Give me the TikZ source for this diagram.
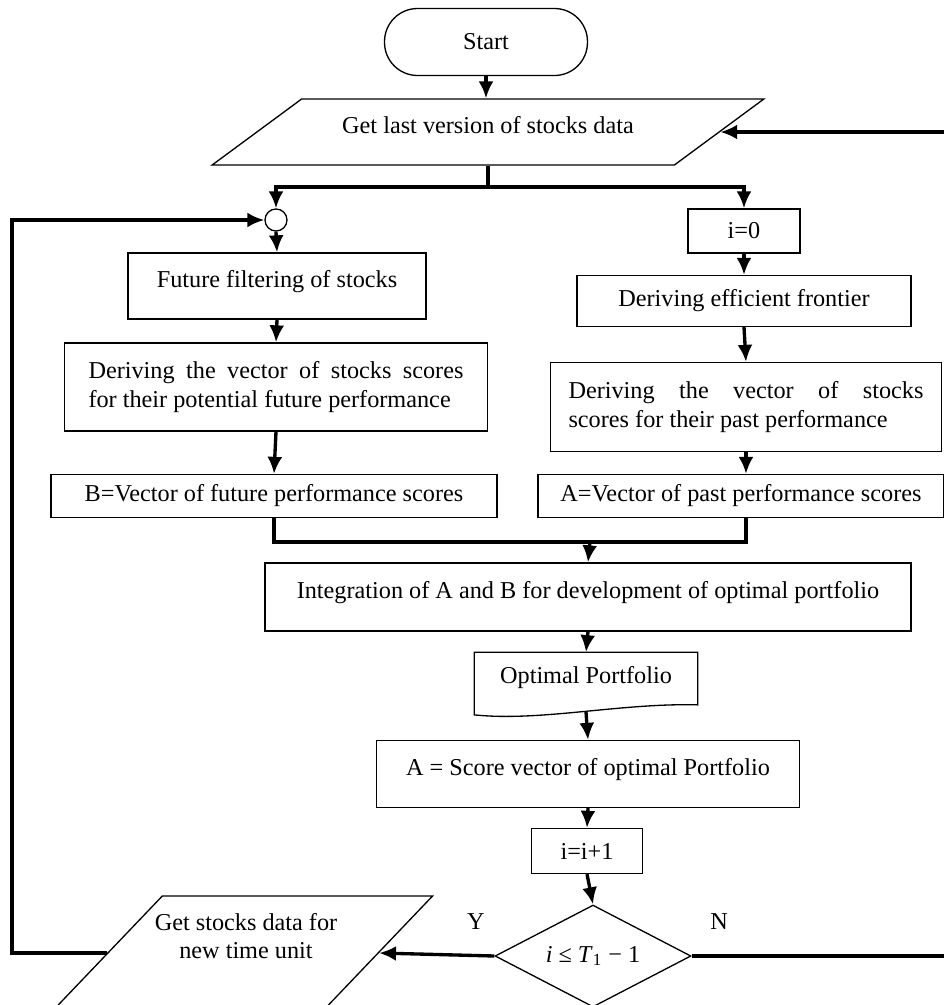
\documentclass[tikz,border=0pt]{standalone}
\usepackage{fontspec}
\setmainfont{Liberation Serif}
\usetikzlibrary{arrows.meta,shapes.geometric,calc}

\begin{document}
\begin{tikzpicture}[x=0.02cm, y=-0.02cm, font=\fontsize{13.8}{16}\selectfont]
\tikzset{block/.style = {shape=rectangle,draw,line width=0.75pt,inner sep=2pt}}
\tikzset{io/.style = {trapezium,draw,line width=0.75pt,trapezium stretches=true}}
\tikzset{raised/.style = {text depth=8.5pt}}
\tikzset{flow/.style = {-{Latex[length=0.34cm,width=0.3cm]}, line width=1.9pt}}
\tikzset{joinline/.style = {line width=1.9pt}}
\useasboundingbox (0,0) rectangle (944,1005);

% top of the chart
\node[block,rounded corners=0.66cm,minimum width=4.06cm,minimum height=1.34cm] (start) at (486,42) {Start};
\node[io,raised,trapezium left angle=31,trapezium right angle=149,minimum width=11.06cm,minimum height=1.32cm] (getdata) at (488,132) {Get last version of stocks data};
\coordinate (split) at (488,187);

% left branch
\node[circle,draw,line width=0.75pt,minimum size=0.44cm,inner sep=0pt] (junction) at (276,220) {};
\node[block,raised,minimum width=5.96cm,minimum height=1.32cm] (filt) at (277,286) {Future filtering of stocks};
\node[block,minimum width=8.46cm,minimum height=1.76cm,text width=7.5cm,align=justify] (derf) at (276,387) {Deriving the vector of stocks scores\linebreak for their potential future performance};
\node[block,minimum width=8.92cm,minimum height=0.86cm] (bvec) at (274,496) {B=Vector of future performance scores};

% right branch
\node[block,minimum width=2.24cm,minimum height=0.88cm] (izero) at (744,231) {i=0};
\node[block,minimum width=6.68cm,minimum height=1.02cm] (frontier) at (744,301) {Deriving efficient frontier};
\node[block,minimum width=7.82cm,minimum height=1.78cm,text width=7.1cm,align=justify] (derp) at (746,407) {Deriving the vector of stocks\linebreak scores for their past performance};
\node[block,minimum width=8.12cm,minimum height=0.86cm] (avec) at (741,496) {A=Vector of past performance scores};
\coordinate (merge) at (590,542);

% bottom part
\node[block,raised,minimum width=12.92cm,minimum height=1.36cm] (integ) at (588,597) {Integration of A and B for development of optimal portfolio};
\node[raised,minimum width=4.46cm,minimum height=1.18cm] (opt) at (586,682) {Optimal Portfolio};
\draw[line width=0.75pt] ($(opt.south west)+(0,3)$) -- (opt.north west) -- (opt.north east) -- ($(opt.south east)+(0,-7)$)
  .. controls ($(opt.south)+(34,-9)$) and ($(opt.south)+(-46,10)$) .. ($(opt.south west)+(0,3)$) -- cycle;
\node[block,raised,minimum width=8.46cm,minimum height=1.34cm] (ascore) at (588,774) {A = Score vector of optimal Portfolio};
\node[block,minimum width=2.22cm,minimum height=0.9cm] (inc) at (587,851) {i=i+1};
\node[diamond,draw,line width=0.75pt,aspect=1.92,minimum width=3.92cm,minimum height=2.04cm,inner sep=0pt] (dec) at (593,956) {\textit{i} ≤ \textit{T}\textsubscript{1} − 1};
\node[io,trapezium left angle=56,trapezium right angle=124,minimum width=7.59cm,minimum height=2.28cm] (getnew) at (243,953) {};
\node[align=center] (getnewtext) at (246,936) {Get stocks data for\\new time unit};
\node (ylab) at (476,922) {Y};
\node (nlab) at (719,922) {N};
\coordinate (lloop) at (12,220);
\coordinate (rloop) at (950,132);

%edges
\draw[flow] (start.south) -- (start.south |- getdata.north);
\draw[joinline] (getdata.center |- getdata.south) -- (split);
\draw[flow] (split) -| (junction.north);
\draw[flow] (split) -| (izero.north);
\draw[flow] (junction.south) -- (filt.north);
\draw[flow] (filt.south) -- (derf.north);
\draw[flow] (derf.south) -- (bvec.north);
\draw[flow] (izero.south) -- (frontier.north);
\draw[flow] (frontier.south) -- (derp.north);
\draw[flow] (derp.south) -- (derp.south |- avec.north);
\draw[joinline] (bvec.south) |- (merge);
\draw[joinline] (derp.south |- avec.south) |- (merge);
\draw[flow] (merge) -- (integ.north);
\draw[flow] (integ.south) -- (opt.north);
\draw[flow] (opt.south) -- (ascore.north);
\draw[flow] (ascore.south) -- (inc.north);
\draw[flow] (inc.south) -- (dec.north);
\draw[flow] (dec.west) -- (getnew.east);
\draw[flow] (getnew.west) -| (lloop) -- (junction.west);
\draw[flow] (dec.east) -| (rloop) -- (getdata.east);
\end{tikzpicture}
\end{document}
